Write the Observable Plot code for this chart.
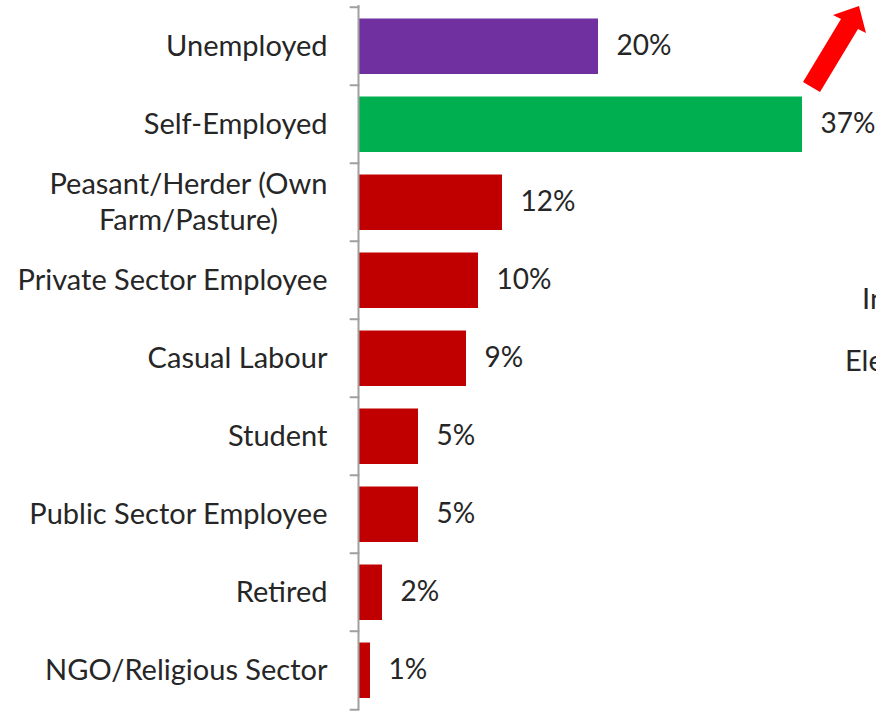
<!DOCTYPE html>
<html>
<head>
<meta charset="utf-8">
<script src="https://cdn.jsdelivr.net/npm/d3@7"></script>
<script src="https://cdn.jsdelivr.net/npm/@observablehq/plot@0.6"></script>
<style>
  html, body { margin: 0; padding: 0; background: #fff; overflow: hidden; }
  #wrap { position: relative; width: 876px; height: 711px; overflow: hidden; }
  .side { position: absolute; font-family: Lato, "Open Sans", sans-serif; font-size: 29px; color: #262626; white-space: nowrap; }
  #arrow { position: absolute; left: 0; top: 0; }
</style>
</head>
<body>
<div id="wrap"></div>
<script>
const categories = [
  "Unemployed",
  "Self-Employed",
  "Peasant/Herder (Own\nFarm/Pasture)",
  "Private Sector Employee",
  "Casual Labour",
  "Student",
  "Public Sector Employee",
  "Retired",
  "NGO/Religious Sector"
];
const values = [20, 37, 12, 10, 9, 5, 5, 2, 1];
const barColors = ["#7030A0", "#00B050", "#C00000", "#C00000", "#C00000", "#C00000", "#C00000", "#C00000", "#C00000"];
const sideTexts = ["In", "Ele"];

const data = categories.map((c, i) => ({category: c, value: values[i], color: barColors[i]}));
const W = 876, H = 711, ML = 358, MT = 5, MB = 1, MR = 0;
const pxPerUnit = 12;
const xMax = (W - ML - MR) / pxPerUnit;
const step = (H - MT - MB) / categories.length;
const tickShape = {draw(context, l) { context.moveTo(0, 0); context.lineTo(0, -l); }};
const font = "Lato, 'Open Sans', sans-serif";

const chart = Plot.plot({
  width: W,
  height: H,
  marginLeft: ML,
  marginRight: MR,
  marginTop: MT,
  marginBottom: MB,
  style: {fontFamily: font, fontSize: "29px", color: "#262626", background: "white", overflow: "visible"},
  x: {domain: [0, xMax], axis: null},
  y: {domain: categories, padding: 0, axis: null},
  marks: [
    Plot.barX(data, {x: "value", y: "category", fill: "color", insetTop: 11.5, insetBottom: 11}),
    Plot.ruleX([0], {stroke: "#a0a0a0", strokeWidth: 2}),
    Plot.vector(categories, {y: d => d, x: 0, length: 8, rotate: 270, anchor: "start", shape: tickShape, stroke: "#a0a0a0", strokeWidth: 2, dy: -step / 2}),
    Plot.vector(categories.slice(-1), {y: d => d, x: 0, length: 8, rotate: 270, anchor: "start", shape: tickShape, stroke: "#a0a0a0", strokeWidth: 2, dy: step / 2}),
    Plot.axisY({tickSize: 0, tickPadding: 31, fontSize: 29, lineHeight: 1.25, fill: "#262626", label: null, dy: -2}),
    Plot.text(data, {x: "value", y: "category", text: d => d.value + "%", dx: 18, textAnchor: "start", fontSize: 28, fill: "#262626"})
  ]
});

const wrap = document.getElementById("wrap");
wrap.appendChild(chart);

// center the lines of multi-line axis labels within their block (as in the reference)
chart.querySelectorAll("text").forEach(t => {
  const spans = t.querySelectorAll("tspan");
  if (spans.length > 1) {
    const widths = Array.from(spans, s => s.getComputedTextLength());
    const maxW = Math.max(...widths);
    t.setAttribute("text-anchor", "middle");
    spans.forEach(s => s.setAttribute("x", -maxW / 2));
  }
});

const ns = "http://www.w3.org/2000/svg";
const arrow = document.createElementNS(ns, "svg");
arrow.setAttribute("id", "arrow");
arrow.setAttribute("width", W);
arrow.setAttribute("height", H);
const poly = document.createElementNS(ns, "polygon");
poly.setAttribute("points", "803,82 841,19 833,15 859,6 866,33 858,29 820,92");
poly.setAttribute("fill", "#FF0000");
arrow.appendChild(poly);
wrap.appendChild(arrow);

const sidePos = [[862, 280], [845, 342]];
sideTexts.forEach((t, i) => {
  const d = document.createElement("div");
  d.className = "side";
  d.textContent = t;
  d.style.left = sidePos[i][0] + "px";
  d.style.top = sidePos[i][1] + "px";
  wrap.appendChild(d);
});
</script>
</body>
</html>
